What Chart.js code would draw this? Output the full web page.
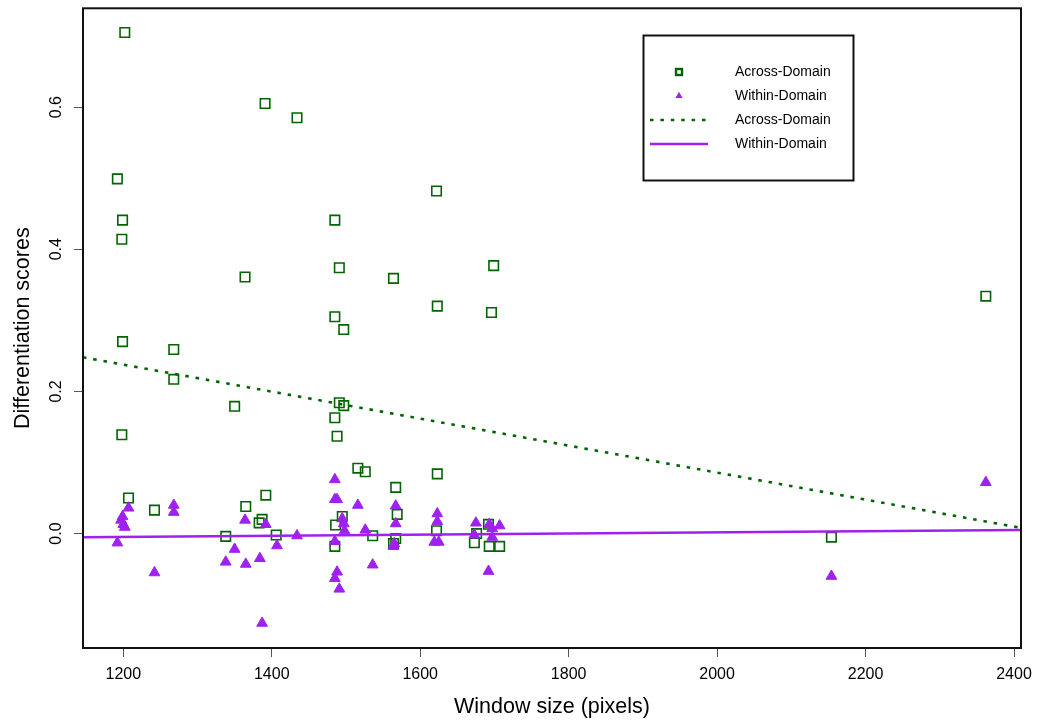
<html>
<head>
<meta charset="utf-8">
<title>Differentiation scores by window size</title>
<style>
  body { margin: 0; background: #fff; }
</style>
</head>
<body>
<canvas id="chart" width="1037" height="721"></canvas>
<script src="https://cdn.jsdelivr.net/npm/chart.js"></script>
<script>
// window size (pixels) and scores
var acrossX = [1202, 1391, 1434, 1192, 1199, 1198, 1364, 1485, 1491, 1564,
               1485, 1497, 1622, 1699, 1623, 1696, 1199, 1268, 1268, 1350,
               1198, 1491, 1497, 1485, 1488, 1516, 1526, 1567, 1207, 1242,
               1365, 1392, 1383, 1387, 1406, 1338, 1495, 1486, 1485, 1536,
               1569, 1567, 1564, 1623, 1622, 1692, 1673, 1676, 1693, 1707,
               2362, 2154];
var acrossY = [0.705, 0.605, 0.585, 0.499, 0.441, 0.414, 0.361, 0.441, 0.374, 0.359,
               0.305, 0.287, 0.482, 0.377, 0.320, 0.311, 0.270, 0.259, 0.217, 0.179,
               0.139, 0.184, 0.180, 0.163, 0.137, 0.092, 0.087, 0.065, 0.050, 0.033,
               0.038, 0.054, 0.015, 0.020, -0.002, -0.004, 0.024, 0.012, -0.018, -0.003,
               0.027, -0.007, -0.014, 0.084, 0.004, 0.013, -0.013, 0.000, -0.018, -0.018,
               0.334, -0.005];

var withinX = [1485, 1485, 1488, 1207, 1199, 1197, 1200, 1202, 1192, 1268,
               1268, 1242, 1364, 1350, 1338, 1365, 1384, 1387, 1392, 1407,
               1434, 1485, 1488, 1485, 1491, 1495, 1497, 1498, 1516, 1526,
               1536, 1567, 1567, 1564, 1565, 1623, 1623, 1619, 1625, 1675,
               1673, 1693, 1697, 1697, 1707, 1692, 2362, 2154];
var withinY = [0.076, 0.048, 0.048, 0.036, 0.024, 0.019, 0.013, 0.009, -0.013, 0.040,
               0.030, -0.055, 0.019, -0.022, -0.040, -0.043, -0.035, -0.126, 0.013, -0.017,
               -0.003, -0.011, -0.054, -0.063, -0.078, 0.021, 0.014, 0.004, 0.040, 0.005,
               -0.044, 0.039, 0.014, -0.018, -0.014, 0.028, 0.017, -0.012, -0.012, 0.015,
               -0.002, 0.013, 0.007, -0.005, 0.011, -0.053, 0.072, -0.060];

// fitted lines, ends at the plot edges
var acrossFitX = [1145.7, 2409.4];
var acrossFitY = [0.248, 0.008];
var withinFitX = [1145.7, 2409.4];
var withinFitY = [-0.0053, 0.0049];

var xTicks = [1200, 1400, 1600, 1800, 2000, 2200, 2400];
var yTicks = [0.0, 0.2, 0.4, 0.6];
var xRange = [1145.7, 2409.4];
var yRange = [-0.161, 0.739];

var GREEN = "#006400";
var PURPLE = "#A020F0";

function pts(xs, ys) {
    return xs.map(function (x, i) { return {x: x, y: ys[i]}; });
}

Chart.defaults.font.family = "'Liberation Sans', Arial, sans-serif";
Chart.defaults.color = "#000";

var boxPlugin = {
    id: "plotbox",
    afterDraw: function (chart) {
        var ctx = chart.ctx, a = chart.chartArea;
        ctx.save();
        ctx.lineWidth = 2;
        ctx.strokeStyle = "#111";
        ctx.strokeRect(a.left, a.top, a.right - a.left, a.bottom - a.top);

        // legend box
        ctx.strokeRect(643.5, 35.5, 210, 145);
        var ds = chart.data.datasets;
        var rowY = [72, 96, 120, 144];
        ctx.font = "14px 'Liberation Sans', Arial, sans-serif";
        ctx.textBaseline = "middle";
        ctx.textAlign = "left";
        for (var i = 0; i < ds.length; i++) {
            var y = rowY[i];
            ctx.strokeStyle = ds[i].borderColor;
            ctx.fillStyle = ds[i].borderColor;
            if (ds[i].pointStyle === "rect") {
                ctx.lineWidth = 2.4;
                ctx.strokeRect(676, y - 3, 6, 6);
            } else if (ds[i].pointStyle === "triangle") {
                ctx.beginPath();
                ctx.moveTo(679, y - 4.2);
                ctx.lineTo(682.6, y + 2.1);
                ctx.lineTo(675.4, y + 2.1);
                ctx.closePath();
                ctx.fill();
            } else {
                ctx.lineWidth = ds[i].borderWidth;
                ctx.setLineDash(ds[i].borderDash || []);
                ctx.beginPath();
                ctx.moveTo(650, y);
                ctx.lineTo(708, y);
                ctx.stroke();
                ctx.setLineDash([]);
            }
            ctx.fillStyle = "#000";
            ctx.fillText(ds[i].label, 735, y);
        }
        ctx.restore();
    }
};

var ctx = document.getElementById("chart");
var chart = new Chart(ctx, {
    type: "scatter",
    data: {
        datasets: [{
            label: "Across-Domain",
            data: pts(acrossX, acrossY),
            pointStyle: "rect",
            pointRadius: 6.7,
            borderWidth: 1.6,
            borderColor: GREEN,
            backgroundColor: "rgba(0,0,0,0)",
            order: 4
        }, {
            label: "Within-Domain",
            data: pts(withinX, withinY),
            pointStyle: "triangle",
            pointRadius: 6.2,
            borderWidth: 1,
            borderColor: PURPLE,
            backgroundColor: PURPLE,
            order: 3
        }, {
            label: "Across-Domain",
            data: pts(acrossFitX, acrossFitY),
            showLine: true,
            pointRadius: 0,
            borderColor: GREEN,
            borderWidth: 2.6,
            borderDash: [3.5, 6.9],
            order: 2
        }, {
            label: "Within-Domain",
            data: pts(withinFitX, withinFitY),
            showLine: true,
            pointRadius: 0,
            borderColor: PURPLE,
            borderWidth: 2.5,
            order: 1
        }]
    },
    options: {
        responsive: false,
        animation: false,
        layout: {padding: {top: 7, right: 16, left: 0, bottom: 0}},
        plugins: {
            legend: {display: false},
            tooltip: {enabled: false}
        },
        scales: {
            x: {
                type: "linear",
                min: xRange[0],
                max: xRange[1],
                afterBuildTicks: function (s) { s.ticks = xTicks.map(function (v) { return {value: v}; }); },
                afterFit: function (s) { s.height = 73; s.paddingLeft = 0; s.paddingRight = 0; },
                ticks: {
                    font: {size: 16},
                    padding: 8,
                    maxRotation: 0,
                    autoSkip: false,
                    callback: function (v) { return String(v); }
                },
                grid: {drawOnChartArea: false, drawTicks: true, tickLength: 9, tickColor: "#555", tickWidth: 1},
                border: {display: false},
                title: {display: true, text: "Window size (pixels)", font: {size: 21.5}, padding: {top: 0, bottom: 1}}
            },
            y: {
                type: "linear",
                min: yRange[0],
                max: yRange[1],
                afterBuildTicks: function (s) { s.ticks = yTicks.map(function (v) { return {value: v}; }); },
                afterFit: function (s) { s.width = 83; s.paddingTop = 0; s.paddingBottom = 0; },
                ticks: {
                    font: {size: 16},
                    padding: 6,
                    minRotation: 90,
                    maxRotation: 90,
                    crossAlign: "center",
                    autoSkip: false,
                    callback: function (v) { return v.toFixed(1); }
                },
                grid: {drawOnChartArea: false, drawTicks: true, tickLength: 9, tickColor: "#555", tickWidth: 1},
                border: {display: false},
                title: {display: true, text: "Differentiation scores", font: {size: 21.5}, padding: {top: 10, bottom: 0}}
            }
        }
    },
    plugins: [boxPlugin]
});
</script>
</body>
</html>
